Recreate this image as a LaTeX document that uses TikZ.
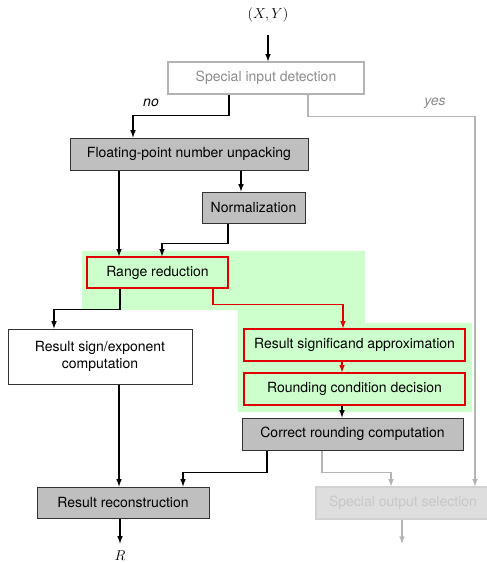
\documentclass[tikz,border=0pt]{standalone}
\usepackage{fontspec}
\setsansfont{TeX Gyre Heros}
\usepackage{tikz}
\usetikzlibrary{arrows}

\definecolor{boxgray}{HTML}{BFBFBF}
\definecolor{lightline}{HTML}{B4B4B4}
\definecolor{paleout}{HTML}{DEDEDE}
\definecolor{rangegreen}{HTML}{CCFFCC}
\definecolor{redline}{HTML}{E00000}

\tikzset{
  stage/.style={draw=black!80, line width=1pt, minimum height=32pt, inner sep=2pt,
    font=\sffamily\fontsize{14}{17}\selectfont, align=center},
  unpack/.style={stage, fill=boxgray},
  kernel/.style={stage, draw=redline, line width=1.3pt, fill=rangegreen},
  special/.style={stage, draw=lightline, text=black!45, line width=1.3pt},
  flow/.style={->, >=latex, line width=1.5pt},
  redflow/.style={flow, draw=redline},
  grayflow/.style={flow, draw=lightline},
  branch/.style={font=\sffamily\itshape\fontsize{14}{17}\selectfont}
}

\begin{document}
\begin{tikzpicture}[x=1pt, y=-1pt]
\useasboundingbox (0,0) rectangle (487,563);

% green region around range reduction and approximation
\fill[rangegreen] (82,251) -- (365,251) -- (365,323) -- (472,323) -- (472,412)
  -- (238,412) -- (238,310) -- (82,310) -- cycle;

\node[font=\fontsize{14}{17}\selectfont] at (268,15) (xy) {$(X,Y)$};
\coordinate (xyin) at (268,35);

\node[special, minimum width=196pt] at (266,78) (sid) {Special input detection};
\node[unpack, minimum width=238pt] at (189,154) (fpu) {Floating-point number unpacking};
\node[unpack, minimum width=103pt, minimum height=31pt] at (253.5,207.5) (norm) {Normalization};
\node[kernel, minimum width=141pt, minimum height=31pt] at (157.5,272.5) (rr) {Range reduction};
\node[stage, fill=white, minimum width=184pt, minimum height=55pt] at (100,356.5) (rse) {Result sign/exponent\\computation};
\node[kernel, minimum width=221pt] at (354.5,345) (rsa) {Result significand approximation};
\node[kernel, minimum width=221pt] at (354.5,389) (rcd) {Rounding condition decision};
\node[unpack, minimum width=221pt] at (352.5,434) (crc) {Correct rounding computation};
\node[unpack, minimum width=172pt, minimum height=31pt] at (123,502.5) (rec) {Result reconstruction};
\node[special, fill=paleout, draw=black!18, text=black!22, minimum width=174pt] at (403,503) (sos) {Special output selection};
\node[font=\fontsize{14}{17}\selectfont, inner sep=0pt] at (120,556) (r) {$R$};

\node[branch] at (151,103) (no) {no};
\node[branch, text=black!45] at (435,103) (yes) {yes};

\draw[flow] (xyin) -- (xyin |- sid.north);
\draw[flow] ([xshift=-37pt]sid.south) -- ++(0,21) -| ([xshift=-56pt]fpu.north);
\draw[grayflow] ([xshift=42pt]sid.south) -- ++(0,22) -| ([xshift=72pt]sos.north);

\draw[flow] ([xshift=52pt]fpu.south) -- ([xshift=52pt]fpu.south |- norm.north);
\draw[flow] ([xshift=-70pt]fpu.south) -- ([xshift=-70pt]fpu.south |- rr.north);
\draw[flow] ([xshift=-25.5pt]norm.south) -- ++(0,20) -| ([xshift=4.5pt]rr.north);

\draw[flow] ([xshift=-37.5pt]rr.south) -- ++(0,21) -| ([xshift=-46pt]rse.north);
\draw[redflow] ([xshift=55.5pt]rr.south) -- ++(0,16) -| ([xshift=-11.5pt]rsa.north);
\draw[redflow] ([xshift=-12.5pt]rsa.south) -- ([xshift=-12.5pt]rcd.north);
\draw[flow] ([xshift=-12.5pt]rcd.south) -- ([xshift=-12.5pt]rcd.south |- crc.north);

\draw[flow] ([xshift=19pt]rse.south) -- ([xshift=19pt]rse.south |- rec.north);
\draw[flow] ([xshift=-85.5pt]crc.south) -- ++(0,22) -| ([xshift=60pt]rec.north);
\draw[grayflow] ([xshift=-30.5pt]crc.south) -- ++(0,22) -| ([xshift=-12pt]sos.north);

\draw[flow] ([xshift=-3pt]rec.south) -- ++(0,25);
\draw[grayflow] ([xshift=-1pt]sos.south) -- ++(0,24);

\end{tikzpicture}
\end{document}
